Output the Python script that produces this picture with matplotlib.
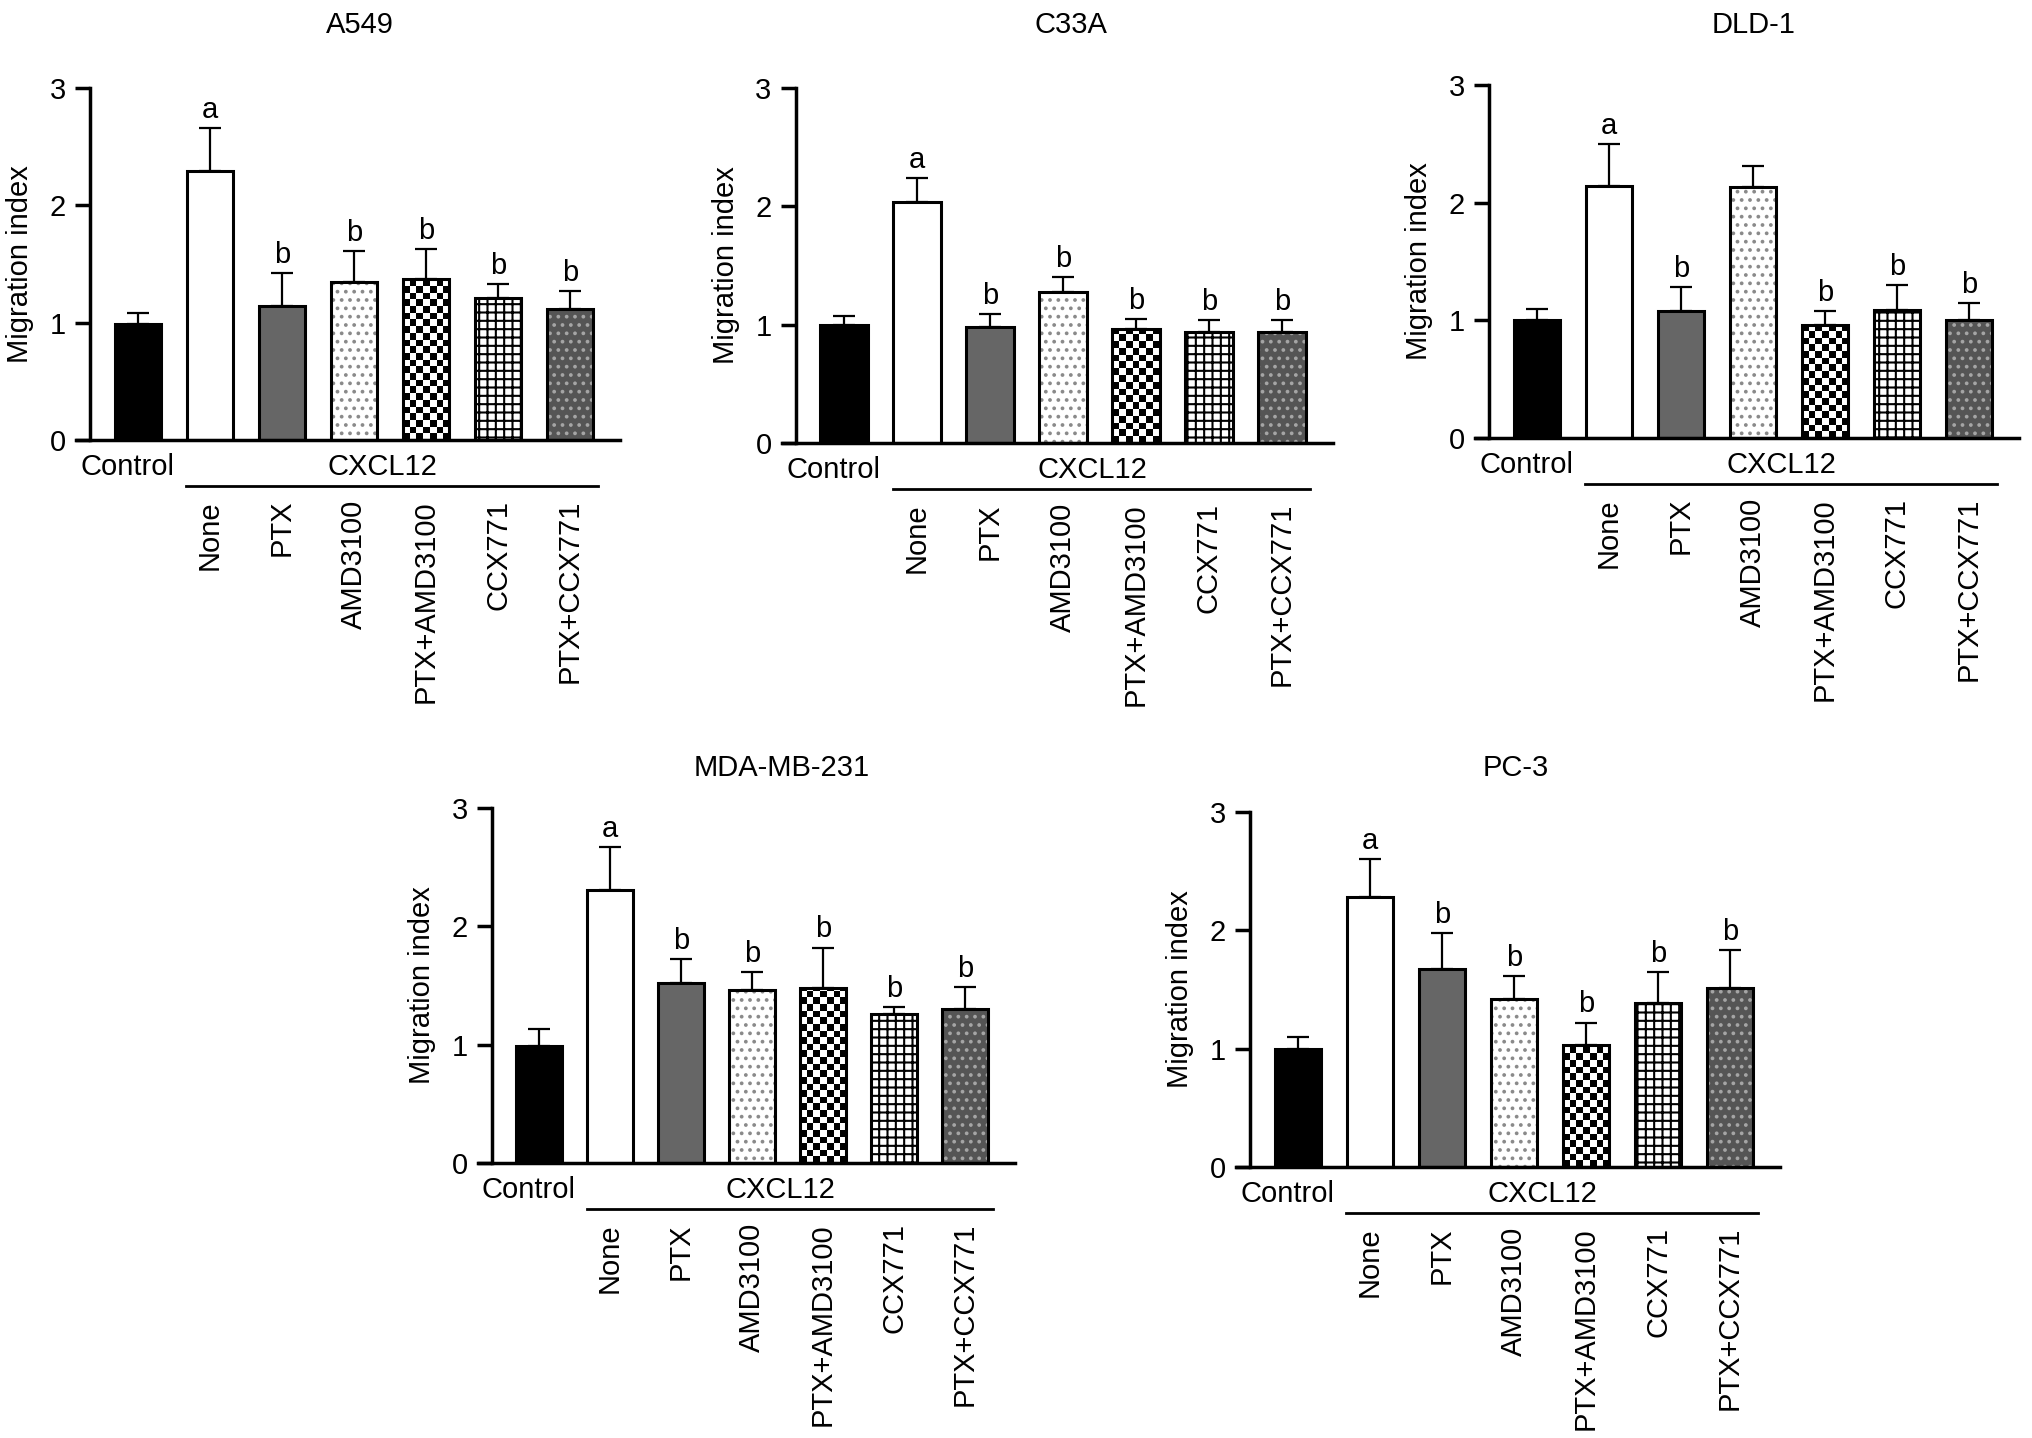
import numpy as np
import matplotlib
matplotlib.use('Agg')
import matplotlib.pyplot as plt

plt.rcParams['font.family'] = ['Liberation Sans', 'DejaVu Sans']
plt.rcParams['font.size'] = 21
plt.rcParams['hatch.linewidth'] = 1.5

groups = ['Control', 'None', 'PTX', 'AMD3100', 'PTX+AMD3100', 'CCX771', 'PTX+CCX771']

# mean migration index and upper SEM
a549_mean = [0.99, 2.29, 1.14, 1.35, 1.37, 1.21, 1.12]
a549_err = [0.09, 0.37, 0.28, 0.26, 0.26, 0.12, 0.15]
a549_sig = ['', 'a', 'b', 'b', 'b', 'b', 'b']

c33a_mean = [1.00, 2.04, 0.98, 1.28, 0.96, 0.94, 0.94]
c33a_err = [0.07, 0.20, 0.11, 0.12, 0.09, 0.10, 0.10]
c33a_sig = ['', 'a', 'b', 'b', 'b', 'b', 'b']

dld1_mean = [1.00, 2.14, 1.08, 2.13, 0.96, 1.09, 1.00]
dld1_err = [0.10, 0.36, 0.20, 0.18, 0.12, 0.21, 0.15]
dld1_sig = ['', 'a', 'b', '', 'b', 'b', 'b']

mda_mean = [0.99, 2.31, 1.52, 1.46, 1.48, 1.26, 1.30]
mda_err = [0.14, 0.36, 0.20, 0.15, 0.34, 0.06, 0.19]
mda_sig = ['', 'a', 'b', 'b', 'b', 'b', 'b']

pc3_mean = [1.00, 2.28, 1.67, 1.42, 1.03, 1.39, 1.51]
pc3_err = [0.10, 0.32, 0.31, 0.19, 0.19, 0.26, 0.32]
pc3_sig = ['', 'a', 'b', 'b', 'b', 'b', 'b']

# bar styles: face colour, hatch, hatch colour
styles = [
    ('black', None, None),
    ('white', None, None),
    ('#666666', None, None),
    ('white', '..', '#8a8a8a'),
    ('white', 'checker', None),
    ('white', '++', 'black'),
    ('#555555', '..', '#a5a5a5'),
]

W, H = 2032, 1438
fig = plt.figure(figsize=(W / 100, H / 100), dpi=100)

BW = 0.65
X0, X1 = -0.855, 6.70
SPINE = -0.66


def draw_panel(name, mean, err, sig, ctrl_x, zero_y, top_y, sp, title_u, title_y):
    left = ctrl_x + X0 * sp
    width = (X1 - X0) * sp
    ax = fig.add_axes([left / W, 1 - zero_y / H, width / W, (zero_y - top_y) / H])
    ppu = (zero_y - top_y) / 3.0
    x = np.arange(len(groups))

    ax.errorbar(x, mean, yerr=[np.zeros(len(x)), err], fmt='none', ecolor='black',
                elinewidth=1.6, capsize=8, capthick=1.6, zorder=1)

    for i in range(len(groups)):
        face, hatch, hc = styles[i]
        if hatch == 'checker':
            b = ax.bar(i, mean[i], BW, color='white', linewidth=0, zorder=2)
            nc = 7
            cy = (BW * sp / nc) / ppu
            nr = int(np.ceil(mean[i] / cy))
            board = np.add.outer(np.arange(nr), np.arange(nc)) % 2
            im = ax.imshow(board, cmap='gray', interpolation='nearest', origin='lower',
                           extent=(i - BW / 2, i + BW / 2, 0, nr * cy), aspect='auto',
                           zorder=2.5)
            im.set_clip_path(b.patches[0])
        elif hatch:
            ax.bar(i, mean[i], BW, color=face, edgecolor=hc, hatch=hatch,
                   linewidth=0, zorder=2)
        else:
            ax.bar(i, mean[i], BW, color=face, linewidth=0, zorder=2)
        ax.bar(i, mean[i], BW, fill=False, edgecolor='black', linewidth=2.2, zorder=3)
        if sig[i]:
            ax.annotate(sig[i], xy=(i, mean[i] + err[i]), xytext=(0, 3),
                        textcoords='offset points', ha='center', va='bottom')

    ax.set_xlim(X0, X1)
    ax.set_ylim(0, 3)
    ax.spines['top'].set_visible(False)
    ax.spines['right'].set_visible(False)
    ax.spines['left'].set_position(('data', SPINE))
    ax.spines['left'].set_linewidth(2.5)
    ax.spines['bottom'].set_linewidth(2.5)
    ax.set_yticks([0, 1, 2, 3])
    ax.set_xticks([])
    ax.tick_params(axis='y', direction='out', length=10.5, width=2.5, pad=7, labelsize=21)

    # group labels under the axis
    ax.text(-0.15, -35 / ppu, groups[0], ha='center', va='baseline', clip_on=False)
    ax.text(3.4, -35 / ppu, 'CXCL12', ha='center', va='baseline', clip_on=False)
    ax.plot([0.67, 6.39], [-46 / ppu] * 2, color='black', lw=2, clip_on=False)
    for i in range(1, len(groups)):
        ax.text(i, -60 / ppu, groups[i], rotation=90, ha='center', va='top', clip_on=False)

    spine_px = ctrl_x + SPINE * sp
    fig.text((spine_px - 70) / W, 1 - (zero_y + top_y) / 2 / H, 'Migration index',
             rotation=90, ha='center', va='center')
    fig.text((ctrl_x + title_u * sp) / W, 1 - title_y / H, name, ha='center', va='center')
    return ax


draw_panel('A549', a549_mean, a549_err, a549_sig, 138, 440, 88, 72, 3.08, 25)
draw_panel('C33A', c33a_mean, c33a_err, c33a_sig, 844, 443, 88, 73, 3.11, 25)
draw_panel('DLD-1', dld1_mean, dld1_err, dld1_sig, 1537, 438, 85, 72, 3.01, 25)
draw_panel('MDA-MB-231', mda_mean, mda_err, mda_sig, 539, 1163, 808, 71, 3.42, 768)
draw_panel('PC-3', pc3_mean, pc3_err, pc3_sig, 1298, 1167, 812, 72, 3.02, 768)

fig.savefig('out.png', dpi=100)
